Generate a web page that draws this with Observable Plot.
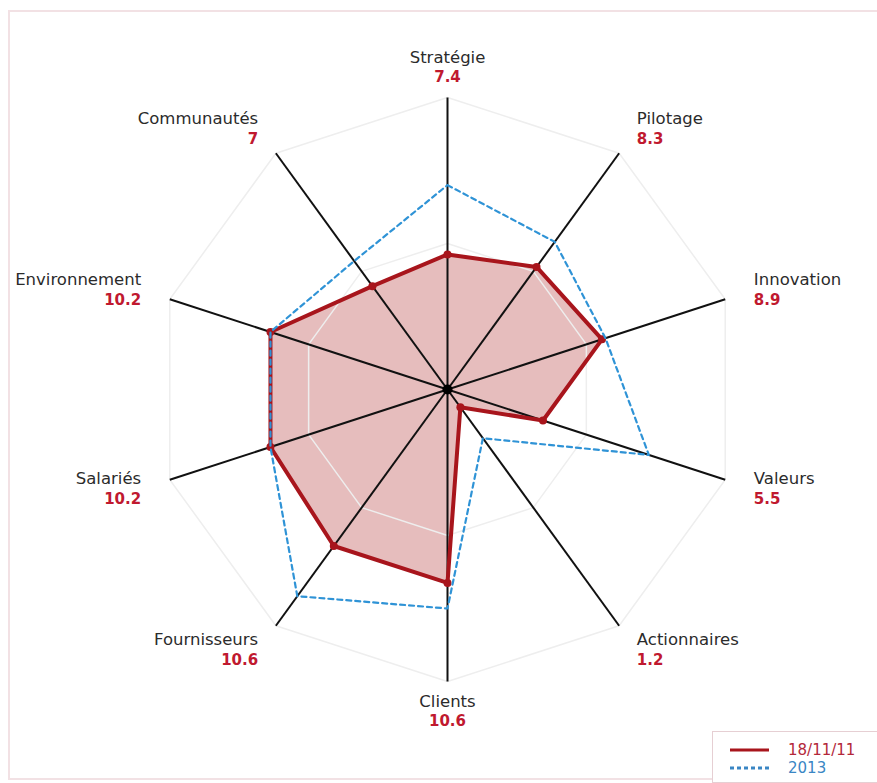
<!DOCTYPE html>
<html>
<head>
<meta charset="utf-8">
<script src="https://cdn.jsdelivr.net/npm/d3@7"></script>
<script src="https://cdn.jsdelivr.net/npm/@observablehq/plot@0.6"></script>
<style>
  html, body { margin: 0; padding: 0; background: #ffffff; }
  #wrap { position: relative; width: 877px; height: 783px; overflow: hidden; }
  #frame { position: absolute; left: 8px; top: 10px; width: 900px; height: 770px; border: 2px solid #f2e1e4; box-sizing: border-box; pointer-events: none; }
  #chart { position: absolute; left: 0; top: 0; }
  #legend { position: absolute; left: 712px; top: 731px; width: 200px; height: 52px; border: 1px solid #e6cfd3; background: #fff; box-sizing: border-box; }
</style>
</head>
<body>
<div id="wrap">
  <div id="chart"></div>
  <div id="frame"></div>
  <div id="legend"></div>
</div>
<script>
// ---- data ----
const axes = ["Stratégie", "Pilotage", "Innovation", "Valeurs", "Actionnaires", "Clients", "Fournisseurs", "Salariés", "Environnement", "Communautés"];
const values2011 = [7.4, 8.3, 8.9, 5.5, 1.2, 10.6, 10.6, 10.2, 10.2, 7];
const values2013 = [11.2, 10.0, 9.1, 11.6, 3.3, 12.0, 14.0, 10.2, 10.2, 8.7];
const valueLabels = ["7.4", "8.3", "8.9", "5.5", "1.2", "10.6", "10.6", "10.2", "10.2", "7"];
const gridLevels = [8, 16];
const maxValue = 16;
const seriesNames = ["18/11/11", "2013"];

// ---- geometry helpers ----
const W = 877, H = 783, cx = 447, cy = 389, k = 18.25; // px per unit
const n = axes.length;
const ang = i => (i * 2 * Math.PI) / n;
const px = (i, v) => v * Math.sin(ang(i));
const py = (i, v) => v * Math.cos(ang(i));

const closed = vals => [...vals.map((v, i) => ({i, v})), {i: 0, v: vals[0]}].map(d => ({...d, x: px(d.i, d.v), y: py(d.i, d.v)}));

const ringData = gridLevels.flatMap(level => d3.range(n + 1).map(j => ({level, x: px(j % n, level), y: py(j % n, level)})));
const axisData = axes.map((name, i) => ({name, x: px(i, maxValue), y: py(i, maxValue)}));
const poly2011 = closed(values2011);
const poly2013 = closed(values2013);
const pts2011 = values2011.map((v, i) => ({x: px(i, v), y: py(i, v)}));

const labelR = 17.65;
const labels = axes.map((name, i) => {
  const s = Math.sin(ang(i));
  return {name, value: valueLabels[i], x: px(i, labelR), y: py(i, labelR), side: Math.abs(s) < 0.01 ? "middle" : (s > 0 ? "start" : "end")};
});

const nameFont = {fontFamily: "DejaVu Sans", fontSize: 16.5, fill: "#2b2b2b"};
const valFont = {fontFamily: "DejaVu Sans", fontSize: 15, fontWeight: "bold", fill: "#c0192f"};

const textMarks = ["start", "middle", "end"].flatMap(side => [
  Plot.text(labels.filter(d => d.side === side), {x: "x", y: "y", text: "name", textAnchor: side, dy: -10, ...nameFont}),
  Plot.text(labels.filter(d => d.side === side), {x: "x", y: "y", text: "value", textAnchor: side, dy: 10, ...valFont})
]);

const chart = Plot.plot({
  width: W,
  height: H,
  margin: 0,
  x: {type: "linear", domain: [-cx / k, (W - cx) / k], range: [0, W], axis: null},
  y: {type: "linear", domain: [-(H - cy) / k, cy / k], range: [H, 0], axis: null},
  style: {background: "transparent"},
  marks: [
    Plot.area(poly2011, {x1: "x", y1: "y", x2: () => 0, y2: () => 0, fill: "#e6bdbd", fillOpacity: 1}),
    Plot.line(ringData, {x: "x", y: "y", z: "level", stroke: "#eeeeee", strokeWidth: 1.5}),
    Plot.link(axisData, {x1: () => 0, y1: () => 0, x2: "x", y2: "y", stroke: "#111", strokeWidth: 2}),
    Plot.line(poly2011, {x: "x", y: "y", stroke: "#a8151c", strokeWidth: 4, strokeLinejoin: "round"}),
    Plot.dot(pts2011, {x: "x", y: "y", r: 4, fill: "#a8151c", stroke: "none"}),
    Plot.line(poly2013, {x: "x", y: "y", stroke: "#2f93d6", strokeWidth: 2.2, strokeDasharray: "5,4"}),
    Plot.dot([{x: 0, y: 0}], {x: "x", y: "y", r: 5, fill: "#000", stroke: "none"}),
    ...textMarks
  ]
});
document.getElementById("chart").appendChild(chart);

// legend
const lg = d3.select("#legend").append("svg").attr("width", 200).attr("height", 52);
const items = [
  {name: seriesNames[0], stroke: "#a8151c", dash: null, width: 3, color: "#b3283a"},
  {name: seriesNames[1], stroke: "#3a86c4", dash: "4,3", width: 3, color: "#3a86c4"}
];
items.forEach((it, j) => {
  const yy = 18 + j * 18;
  lg.append("line").attr("x1", 17).attr("x2", 56).attr("y1", yy).attr("y2", yy)
    .attr("stroke", it.stroke).attr("stroke-width", it.width).attr("stroke-dasharray", it.dash);
  lg.append("text").attr("x", 75).attr("y", yy + 5).text(it.name)
    .attr("font-family", "DejaVu Sans").attr("font-size", 15).attr("fill", it.color);
});
</script>
</body>
</html>
